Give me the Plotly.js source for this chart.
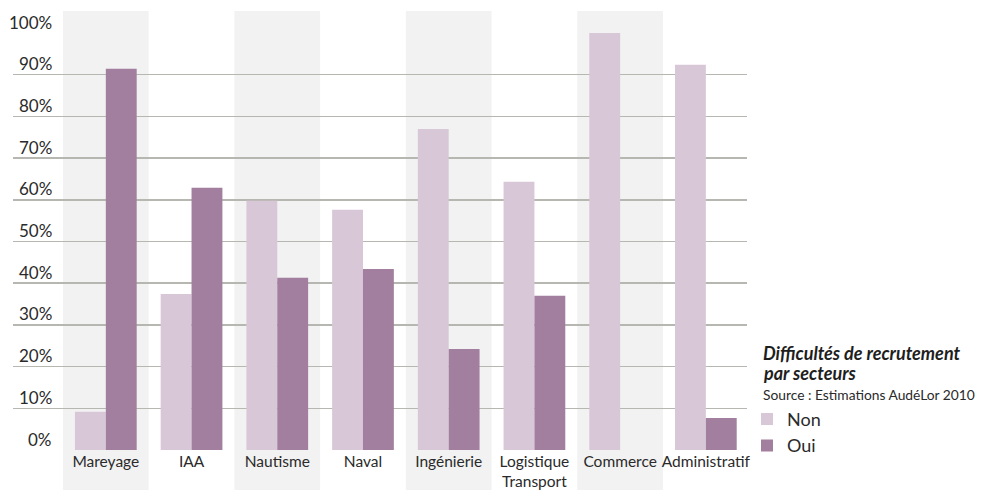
<!DOCTYPE html>
<html><head><meta charset="utf-8">
<script src="https://cdn.plot.ly/plotly-3.0.1.min.js"></script>
<style>html,body{margin:0;padding:0;background:#fff}#chart{width:982px;height:490px}</style>
</head><body><div id="chart"></div>
<script>
const categories = ["Mareyage","IAA","Nautisme","Naval","Ingénierie","Logistique<br>Transport","Commerce","Administratif"];
const nonValues = [9.2, 37.4, 59.8, 57.6, 77.0, 64.3, 100, 92.4];
const ouiValues = [91.4, 62.9, 41.3, 43.4, 24.2, 37.0, 0, 7.7];
const yTicks = [0,10,20,30,40,50,60,70,80,90,100];
const yTickLabels = ["0%","10%","20%","30%","40%","50%","60%","70%","80%","90%","100%"];
const shadedIdx = [0,2,4,6];
const titleLines = ["Difficultés de recrutement","par secteurs"];
const sourceText = "Source : Estimations AudéLor 2010";

const FONT = "Lato, 'Open Sans', sans-serif";
const idx = categories.map((c,i)=>i);

const traces = [
  {type:'bar', name:'Non', x:idx, y:nonValues, marker:{color:'#d8c7d7'}, hoverinfo:'skip'},
  {type:'bar', name:'Oui', x:idx, y:ouiValues, marker:{color:'#a27e9f'}, hoverinfo:'skip'}
];

const shapes = shadedIdx.map(i=>({type:'rect', xref:'x', yref:'paper', x0:i-0.5, x1:i+0.5, y0:-0.1, y1:1.053,
  fillcolor:'#f2f2f2', line:{width:0}, layer:'below'}));

const annotations = yTicks.map((v,k)=>({xref:'paper', yref:'y', x:0.056, y:v, yshift:11, xanchor:'right', yanchor:'middle',
  text:yTickLabels[k], showarrow:false, font:{family:FONT, size:17, color:'#2a2a2a'}}));
const titleY = [0.232, 0.184];
titleLines.forEach((t,k)=>annotations.push({xref:'paper', yref:'paper', x:1.02, y:titleY[k], xanchor:'left', yanchor:'middle', align:'left',
  text:'<b><i>'+t+'</i></b>', showarrow:false, borderpad:0, font:{family:FONT, size:18, color:'#1e1e1e'}}));
annotations.push({xref:'paper', yref:'paper', x:1.02, y:0.132, xanchor:'left', yanchor:'middle', align:'left',
  text:sourceText, showarrow:false, borderpad:0, font:{family:FONT, size:13.8, color:'#2a2a2a'}});

const layout = {
  width:982, height:490,
  margin:{l:13, r:235, t:33, b:40},
  paper_bgcolor:'#fff', plot_bgcolor:'rgba(0,0,0,0)',
  barmode:'group', bargap:0.28, bargroupgap:0,
  showlegend:true,
  legend:{x:1.0, xanchor:'left', y:0.118, yanchor:'top', font:{family:FONT, size:18, color:'#2a2a2a'}, bgcolor:'rgba(0,0,0,0)', itemwidth:30, tracegroupgap:0},
  xaxis:{range:[-1.083, 7.48], tickmode:'array', tickvals:idx, ticktext:categories, showgrid:false, zeroline:false, showline:false,
    ticks:'', tickfont:{family:FONT, size:15.5, color:'#2a2a2a'}, fixedrange:true},
  yaxis:{range:[0,100], tickvals:yTicks, showticklabels:false, showgrid:true, gridcolor:'#b7b7b2', gridwidth:1.5,
    zeroline:false, showline:false, fixedrange:true},
  shapes:shapes, annotations:annotations
};
Plotly.newPlot('chart', traces, layout, {displayModeBar:false, staticPlot:true});
</script></body></html>
